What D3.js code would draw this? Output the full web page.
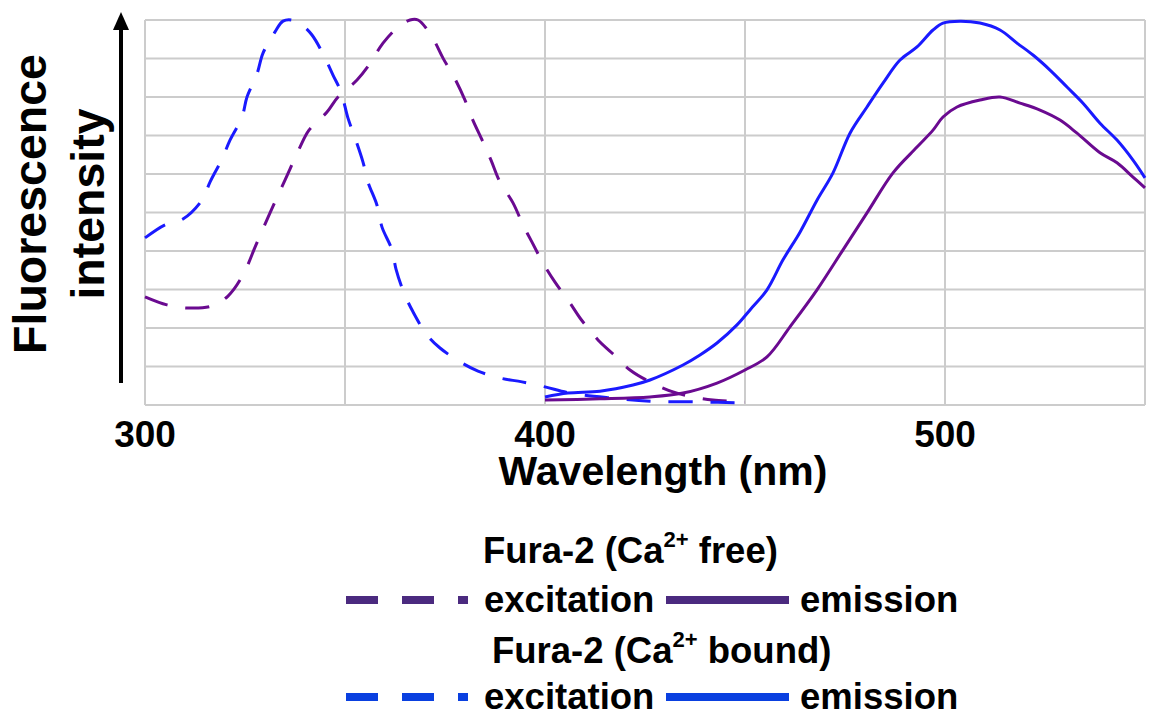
<!DOCTYPE html>
<meta charset="utf-8">
<style>
body { margin: 0; background: #fff; }
svg { font-family: "Liberation Sans", Arial, sans-serif; font-weight: bold; }
.grid line { stroke: #cccccc; stroke-width: 2; }
</style>
<svg width="1153" height="713"></svg>
<script src="https://d3js.org/d3.v7.min.js"></script>
<script>

// ---- data (wavelength in nm, intensity 0-100) ----
var freeExNm  = [300, 305.5, 310.5, 316.75, 320.75, 324.5, 327.75, 331.25, 335, 338.75, 341, 345.5, 348.25, 353, 356, 359.5, 363, 366.25, 368.25, 371.75, 374.5, 377.25, 380, 381.75, 384.5, 386.5, 388.75, 392, 394.5, 396.75, 399.5, 402.5, 406.25, 408.75, 413.25, 416.75, 421.25, 426.25, 432, 437, 442, 450];
var freeExVal = [28.1, 26.0, 25.2, 25.7, 28.3, 33.8, 41.6, 49.9, 58.4, 67.0, 71.4, 76.1, 80.0, 84.4, 88.3, 94.0, 97.9, 100, 100, 95.6, 90.1, 85.2, 79.2, 74.5, 68.3, 63.6, 57.9, 52.5, 46.8, 42.3, 36.9, 31.9, 26.5, 22.6, 16.9, 13.5, 9.1, 6.0, 3.4, 2.1, 1.3, 0.8];

var freeEmNm  = [400, 413.75, 426.25, 434.5, 443, 450, 455.5, 461.25, 468, 474.5, 480.5, 487, 493, 497, 499.5, 503, 508.75, 513.75, 518.75, 523.75, 528.75, 533, 538.75, 543, 547, 550];
var freeEmVal = [1.3, 1.6, 2.1, 3.1, 5.7, 9.1, 12.5, 20.3, 29.9, 40.3, 49.9, 60.3, 67.0, 71.4, 74.8, 77.4, 79.2, 80.0, 78.4, 76.6, 74.0, 70.6, 65.5, 62.9, 59.2, 56.4];

var boundExNm  = [300, 305, 309.5, 314.25, 316.25, 319.25, 321.25, 324.25, 325.5, 328, 329.5, 332.5, 334.5, 336.75, 339.25, 341.75, 344.25, 347, 349, 350.75, 352.5, 354.5, 355.75, 358, 359.25, 361.75, 362.75, 364.75, 367, 370.5, 373.75, 379.25, 383.25, 388.75, 394.25, 400, 406.25, 416.75, 426.25, 438.75, 450];
var boundExVal = [43.4, 46.8, 48.3, 53.2, 57.9, 63.9, 68.8, 74.8, 80.0, 86.0, 91.4, 96.9, 99.7, 100, 98.7, 96.1, 91.7, 85.7, 81.3, 74.5, 69.4, 63.1, 57.9, 51.9, 46.2, 40.3, 35.3, 29.1, 24.2, 18.2, 14.8, 10.9, 8.8, 7.0, 6.0, 4.7, 3.1, 1.8, 1.0, 0.8, 0.5];

var boundEmNm  = [400, 405.75, 413.75, 422, 426.25, 434.5, 438.75, 443, 448, 451.25, 455.5, 459.5, 463.75, 468, 472, 476.25, 480.5, 484.5, 488.75, 493, 497, 499.5, 503.75, 508.75, 513.75, 518, 522, 526.25, 530.5, 534.5, 538.75, 543, 547, 550];
var boundEmVal = [2.1, 3.1, 3.6, 5.2, 6.5, 10.4, 13.0, 16.1, 20.8, 24.7, 29.9, 37.7, 44.9, 53.2, 60.3, 70.6, 77.4, 83.6, 89.6, 93.0, 97.4, 99.2, 99.7, 99.2, 97.4, 94.0, 90.9, 87.0, 82.6, 78.4, 73.2, 68.8, 63.6, 59.0];

var xTickLabels = [300, 400, 500];

var purple = "#6a0a90", blue = "#1a1aff";
var legPurple = "#4b2a7f", legBlue = "#0a40e0";

var svg = d3.select("svg");

var x = d3.scaleLinear().domain([300, 550]).range([145, 1145]);
var y = d3.scaleLinear().domain([0, 100]).range([405, 20]);

// grid
var grid = svg.append("g").attr("class", "grid");
grid.selectAll(".h")
    .data(d3.range(0, 101, 10))
  .enter().append("line")
    .attr("x1", x(300)).attr("x2", x(550))
    .attr("y1", function(d) { return y(d); })
    .attr("y2", function(d) { return y(d); });
grid.selectAll(".v")
    .data(d3.range(300, 551, 50))
  .enter().append("line")
    .attr("y1", y(0)).attr("y2", y(100))
    .attr("x1", function(d) { return x(d); })
    .attr("x2", function(d) { return x(d); });

// curves
function zip(a, b) { return a.map(function(v, i) { return [v, b[i]]; }); }

var line = d3.line()
    .x(function(d) { return x(d[0]); })
    .y(function(d) { return y(d[1]); })
    .curve(d3.curveCatmullRom.alpha(0.5));

var series = [
  { pts: zip(freeExNm, freeExVal), color: purple, dash: "24,18" },
  { pts: zip(boundExNm, boundExVal), color: blue, dash: "24,18" },
  { pts: zip(freeEmNm, freeEmVal), color: purple, dash: null },
  { pts: zip(boundEmNm, boundEmVal), color: blue, dash: null }
];

svg.append("g").selectAll("path")
    .data(series)
  .enter().append("path")
    .attr("d", function(d) { return line(d.pts); })
    .attr("fill", "none")
    .attr("stroke", function(d) { return d.color; })
    .attr("stroke-width", 3)
    .attr("stroke-dasharray", function(d) { return d.dash; });

// x tick labels + title
svg.append("g").selectAll("text")
    .data(xTickLabels)
  .enter().append("text")
    .attr("x", function(d) { return x(d); })
    .attr("y", 447)
    .attr("text-anchor", "middle")
    .attr("font-size", 37)
    .text(function(d) { return d; });

svg.append("text")
    .attr("x", 663).attr("y", 485)
    .attr("text-anchor", "middle")
    .attr("font-size", 41)
    .text("Wavelength (nm)");

// y axis arrow + title
svg.append("line")
    .attr("x1", 121).attr("x2", 121)
    .attr("y1", 383).attr("y2", 26)
    .attr("stroke", "#000").attr("stroke-width", 4);
svg.append("path")
    .attr("d", "M113,30 L121,12 L129,30 Z")
    .attr("fill", "#000");

var ylab = svg.append("text")
    .attr("transform", "translate(0,204) rotate(-90)")
    .attr("text-anchor", "middle")
    .attr("font-size", 46.5);
ylab.append("tspan").attr("x", 0).attr("y", 46).text("Fluorescence");
ylab.append("tspan").attr("x", 0).attr("y", 104).text("intensity");

// legend
var legend = svg.append("g").attr("font-size", 36.5);

function header(xp, yp, tail) {
  var t = legend.append("text").attr("x", xp).attr("y", yp);
  t.append("tspan").text("Fura-2 (Ca");
  t.append("tspan").attr("dy", -16).attr("font-size", 22).text("2+");
  t.append("tspan").attr("dy", 16).text(" " + tail);
}

function row(yc, color) {
  var g = legend.append("g");
  [[346, 32], [402, 32], [458, 10]].forEach(function(s) {
    g.append("rect")
      .attr("x", s[0]).attr("y", yc - 4)
      .attr("width", s[1]).attr("height", 8)
      .attr("fill", color);
  });
  g.append("text").attr("x", 484).attr("y", yc + 12).text("excitation");
  g.append("rect")
    .attr("x", 666).attr("y", yc - 4)
    .attr("width", 123).attr("height", 8)
    .attr("fill", color);
  g.append("text").attr("x", 800).attr("y", yc + 12).text("emission");
}

header(483, 563, "free)");
row(600, legPurple);
header(492, 663, "bound)");
row(697, legBlue);

</script>
